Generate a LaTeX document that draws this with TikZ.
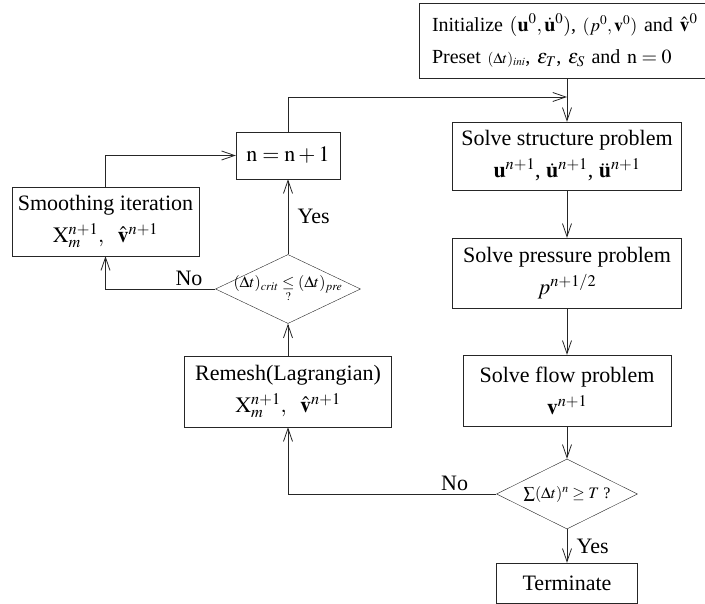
\documentclass[tikz,border=0pt]{standalone}
\usepackage{amsmath}
\usepackage{mathptmx}
\usepackage{fontspec}
\setmainfont{Liberation Serif}
\usetikzlibrary{shapes, arrows.meta}

\begin{document}
\begin{tikzpicture}[x=1pt, y=-1pt]
    % Define display style
    \tikzstyle{block}=[draw, black!85, text=black, rectangle, align=center, inner sep=2pt, font=\fontsize{22}{32}\selectfont]
    \tikzstyle{decision}=[draw, black!85, text=black, diamond, aspect=2, inner sep=0pt]
    \tikzstyle{flow}=[black!85, line width=0.8pt, -{Straight Barb[length=13pt, width=9pt]}]
    \tikzstyle{tag}=[text=black, font=\fontsize{22}{24}\selectfont]

    % Define column positions
    \newcommand\LX{288}
    \newcommand\RX{567}

    \useasboundingbox (0,0) rectangle (705,604);

    % Right column: the solution steps
    \node[block, align=left, text width=280pt, inner xsep=13pt, minimum height=75pt,
          font=\fontsize{20}{32}\selectfont] (init) at (572, 40.5)
        {Initialize $(\mathbf{u}^0,\dot{\mathbf{u}}^0)$, {\fontsize{18}{20}\selectfont$(p^0,\mathbf{v}^0)$} and $\hat{\mathbf{v}}^0$\\
         Preset {\fontsize{15}{18}\selectfont$(\Delta t)_{ini}$}, $\varepsilon_T$, $\varepsilon_S$ and $\mathrm{n}=0$};
    \node[block, minimum width=229pt, minimum height=68pt] (struct) at (\RX, 156)
        {Solve structure problem\\ $\mathbf{u}^{n+1}$, $\dot{\mathbf{u}}^{n+1}$, $\ddot{\mathbf{u}}^{n+1}$};
    \node[block, minimum width=229pt, minimum height=70pt] (press) at (\RX, 273)
        {Solve pressure problem\\ $p^{n+1/2}$};
    \node[block, minimum width=208pt, minimum height=71pt] (flowstep) at (\RX, 390.5)
        {Solve flow problem\\ $\mathbf{v}^{n+1}$};
    \node[decision, minimum width=141pt, minimum height=70pt,
          label={[tag, font=\fontsize{16}{18}\selectfont]center:$\sum(\Delta t)^n \ge T$ ?}] (conv) at (\RX, 494) {};
    \node[block, minimum width=141pt, minimum height=40pt] (term) at (\RX, 583) {Terminate};

    % Left column: the mesh update
    \node[block, minimum width=207pt, minimum height=71pt] (remesh) at (\LX, 391.5)
        {Remesh(Lagrangian)\\ $\mathrm{X}_m^{n+1},\ \ \hat{\mathbf{v}}^{n+1}$};
    \node[decision, minimum width=145pt, minimum height=69pt,
          label={[tag, font=\fontsize{16}{18}\selectfont]center:$(\Delta t)_{crit} \underset{?}{\le} (\Delta t)_{pre}$}] (crit) at (\LX, 289) {};
    \node[block, minimum width=104pt, minimum height=47pt] (incr) at (\LX, 155.5) {$\mathrm{n}=\mathrm{n}+1$};
    \node[block, minimum width=187pt, minimum height=69pt] (smooth) at (105.5, 221.5)
        {Smoothing iteration\\ $\mathrm{X}_m^{n+1},\ \ \hat{\mathbf{v}}^{n+1}$};

    % Point where the loop joins the right column
    \coordinate (merge) at (\RX, 97);

    % Draw the connectors
    \draw[flow] (init.south -| struct.north) -- (struct.north);
    \draw[flow] (struct) -- (press);
    \draw[flow] (press) -- (flowstep);
    \draw[flow] (flowstep) -- (conv);
    \draw[flow] (conv) -- node[tag, right=6pt] {Yes} (term);
    \draw[flow] (conv.west) -| node[tag, above, pos=0.1] {No} (remesh.south);
    \draw[flow] (remesh) -- (crit);
    \draw[flow] (crit) -- node[tag, right=6pt] {Yes} (incr);
    \draw[flow] (crit.west) -| node[tag, above, pos=0.12] {No} (smooth.south);
    \draw[flow] (smooth.north) |- (incr.west);
    \draw[flow] (incr.north) |- (merge);
\end{tikzpicture}
\end{document}
